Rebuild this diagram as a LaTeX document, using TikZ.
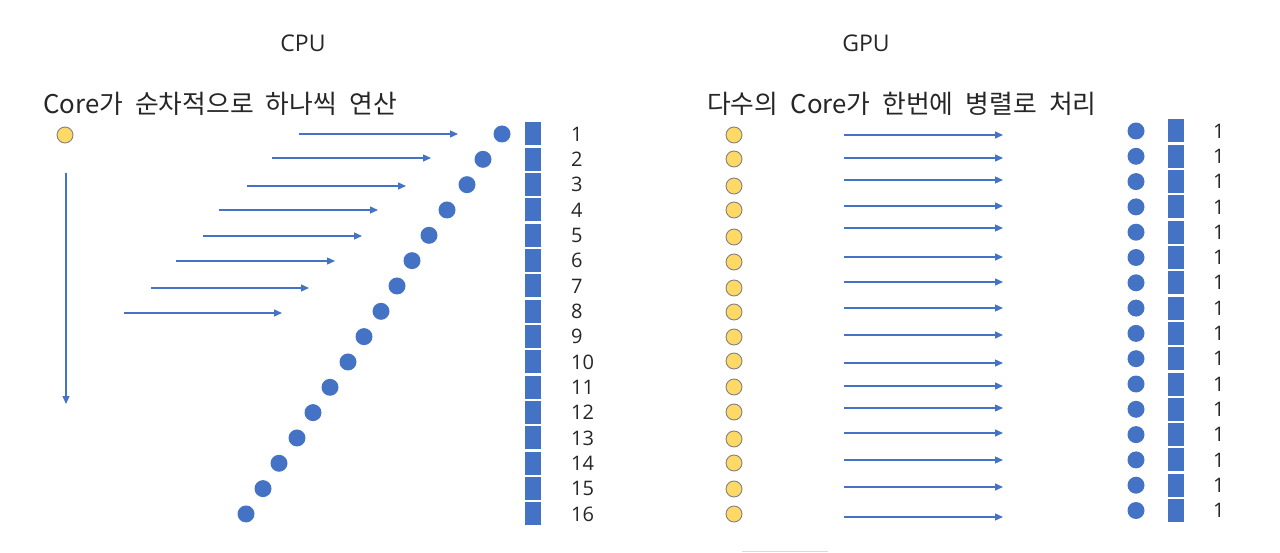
\documentclass[tikz,border=0pt]{standalone}
\usepackage{fontspec}
\setmainfont{Open Sans}
\newfontfamily\kr{Noto Sans CJK KR}[WordSpace=2.1]
\usetikzlibrary{arrows.meta}
\definecolor{obl}{HTML}{4472C4}
\definecolor{oyl}{HTML}{FFD966}
\definecolor{txt}{HTML}{262626}
\begin{document}
\begin{tikzpicture}[x=1pt,y=-1pt,
  core/.style={circle,draw=black!50,line width=0.9pt,fill=oyl,minimum size=16pt,inner sep=0},
  dot/.style={circle,fill=obl,minimum size=17pt,inner sep=0},
  cell/.style={fill=obl,minimum width=16pt,minimum height=23pt,inner sep=0},
  num/.style={anchor=west,inner sep=0,text=txt,font=\fontsize{20}{24}\selectfont},
  flow/.style={draw=obl,line width=1.3pt,-{Triangle[length=8pt,width=7pt]}},
  title/.style={text=txt,font=\fontsize{23}{28}\selectfont},
  desc/.style={anchor=west,inner sep=0,text=txt,font=\kr\fontsize{25.8}{30}\selectfont}]
\useasboundingbox (0,0) rectangle (1280,553);
% titles
\node[title] (cputitle) at (303,43) {CPU};
\node[title] (gputitle) at (866,43) {GPU};
\node[desc] (cpudesc) at (43,104) {Core가 순차적으로 하나씩 연산};
\node[desc] (gpudesc) at (707,104) {다수의 Core가 한번에 병렬로 처리};
% CPU side
\node[core] (cpucore) at (65,135) {};
\coordinate (vtop) at (66,173);
\coordinate (vbot) at (66,404);
\draw[flow] (vtop) -- (vbot);
\foreach \i/\dx in {1/502,2/483,3/467,4/447,5/429,6/412,7/397,8/381,9/364,10/348,11/330,12/313,13/297,14/279,15/263,16/246}{
  \pgfmathsetmacro\yy{134+(\i-1)*25.33}
  \node[dot] (cd\i) at (\dx,\yy) {};
  \node[cell] (cs\i) at (533,\yy) {};
  \node[num] (cn\i) at (571,\yy) {\i};
}
\foreach \i/\xs/\xe/\yy in {1/299/458/134,2/272/431/158,3/247/406/186,4/219/378/210,5/203/362/236,6/176/335/261,7/151/309/288,8/124/282/313}{
  \coordinate (ca\i) at (\xs,\yy);
  \coordinate (cb\i) at (\xe,\yy);
  \draw[flow] (ca\i) -- (cb\i);
}
% GPU side
\foreach \i/\cy/\ay in {1/135/135,2/159/158,3/186/180,4/210/206,5/237/228,6/262/257,7/288/282,8/312/308,9/337/335,10/361/363,11/387/386,12/412/408,13/439/433,14/463/460,15/489/487,16/514/517}{
  \node[core] (gc\i) at (734,\cy) {};
  \coordinate (ga\i) at (844,\ay);
  \coordinate (gb\i) at (1003,\ay);
  \draw[flow] (ga\i) -- (gb\i);
  \pgfmathsetmacro\ry{131+(\i-1)*25.3}
  \node[dot] (gd\i) at (1136,\ry) {};
  \node[cell] (gs\i) at (1176,\ry) {};
  \node[num] (gn\i) at (1213,\ry) {1};
}
\coordinate (lineA) at (742,551);
\coordinate (lineB) at (828,551);
\draw[black!15,line width=1pt] (lineA) -- (lineB);
\end{tikzpicture}
\end{document}
